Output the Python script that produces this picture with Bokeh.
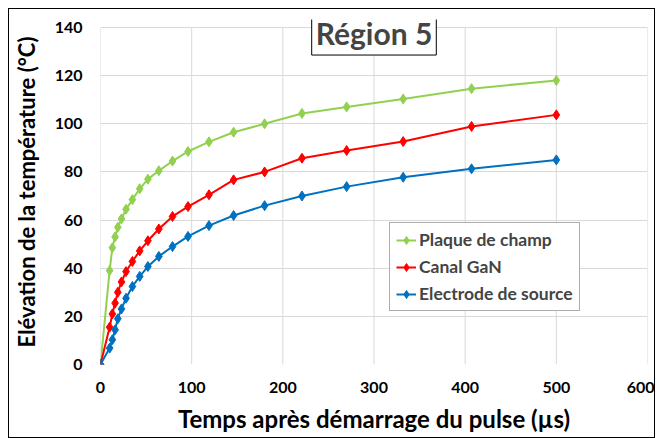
from bokeh.plotting import figure
from bokeh.models import Label, Legend, LegendItem, FixedTicker
from bokeh.embed import file_html
from bokeh.resources import INLINE

time_us = [0, 10, 13, 16, 19, 23, 28, 35, 43, 52, 64, 79, 96, 119, 146, 180, 221, 270, 332, 407, 500]
plaque_champ = [0, 39, 48.5, 53, 57, 60.5, 64.5, 68.5, 73, 77, 80.5, 84.5, 88.5, 92.5, 96.5, 100, 104.3, 107, 110.3, 114.6, 118]
canal_gan = [0, 15.5, 21, 25.5, 30, 34.3, 38.6, 42.8, 47.2, 51.4, 56.3, 61.5, 65.6, 70.5, 76.7, 80, 85.7, 88.9, 92.6, 98.9, 103.7]
electrode_source = [0, 6.8, 10.3, 14.4, 19, 23.1, 27.5, 32.4, 36.6, 40.7, 44.9, 49, 53.2, 57.7, 61.9, 66, 70, 73.9, 77.8, 81.3, 85]

series_names = ["Plaque de champ", "Canal GaN", "Electrode de source"]
series_colors = ["#92d050", "#ff0000", "#0070c0"]
x_ticks = [0, 100, 200, 300, 400, 500, 600]
y_ticks = [0, 20, 40, 60, 80, 100, 120, 140]
title_text = "Région 5"
x_title = "Temps après démarrage du pulse (µs)"
y_title = "Elévation de la température (°C)"

FONT = "Lato"
Y_MAX = y_ticks[-1]
Y_TOP = Y_MAX + 8 / 2.407  # headroom above the axis for the title box

p = figure(width=647, height=430, output_backend="svg", toolbar_location=None,
           x_range=(x_ticks[0], x_ticks[-1]), y_range=(0, Y_TOP),
           min_border_left=91, min_border_right=9, min_border_top=10, min_border_bottom=75)
p.styles = {"border": "1px solid black", "box-sizing": "border-box",
            "margin-left": "8px", "margin-top": "8px"}

p.xaxis.ticker = FixedTicker(ticks=x_ticks)
p.yaxis.ticker = FixedTicker(ticks=y_ticks)
for ax in (p.xaxis[0], p.yaxis[0]):
    ax.axis_line_color = None
    ax.major_tick_line_color = None
    ax.minor_tick_line_color = None
    ax.major_label_text_font = FONT
    ax.major_label_text_font_style = "bold"
    ax.major_label_text_font_size = "16px"
    ax.major_label_text_color = "black"
    ax.axis_label_text_font = FONT
    ax.axis_label_text_font_style = "bold"
    ax.axis_label_text_color = "black"
p.yaxis.axis_label = y_title
p.yaxis.axis_label_text_font_size = "22px"
p.xaxis.axis_label = x_title
p.xaxis.axis_label_text_font_size = "24px"
p.xaxis.major_label_standoff = 11
p.yaxis.major_label_standoff = 12
p.yaxis.axis_label_standoff = 12
p.xaxis.axis_label_standoff = 8

# grid: horizontal lines from the y grid, vertical lines stop at the top tick
p.xgrid.grid_line_color = None
p.ygrid.grid_line_color = "#d9d9d9"
p.outline_line_color = None
p.segment(x0=x_ticks, y0=[0] * len(x_ticks), x1=x_ticks, y1=[Y_MAX] * len(x_ticks),
          line_color="#d9d9d9", line_width=1, level="underlay")

items = []
for name, color, ys in zip(series_names, series_colors, [plaque_champ, canal_gan, electrode_source]):
    r1 = p.line(time_us, ys, line_color=color, line_width=2)
    r2 = p.scatter(time_us, ys, marker="diamond", size=10, fill_color=color, line_color=color)
    items.append(LegendItem(label=name, renderers=[r1, r2]))

legend = Legend(items=items, location=(289, 53))
legend.label_text_font = FONT
legend.label_text_font_style = "bold"
legend.label_text_font_size = "17.5px"
legend.border_line_color = "#595959"
legend.border_line_width = 1
legend.glyph_width = 20
legend.glyph_height = 20
legend.label_standoff = 3
legend.spacing = 6
legend.padding = 6
legend.margin = 0
p.add_layout(legend, "center")

title = Label(x=300, y=137.7, text=title_text, text_align="center", text_baseline="middle",
              text_font=FONT, text_font_style="bold", text_font_size="30px",
              background_fill_color="white", border_line_color="black", border_line_width=1,
              padding=4)
p.add_layout(title)

open("out.html", "w").write(file_html(p, INLINE))
